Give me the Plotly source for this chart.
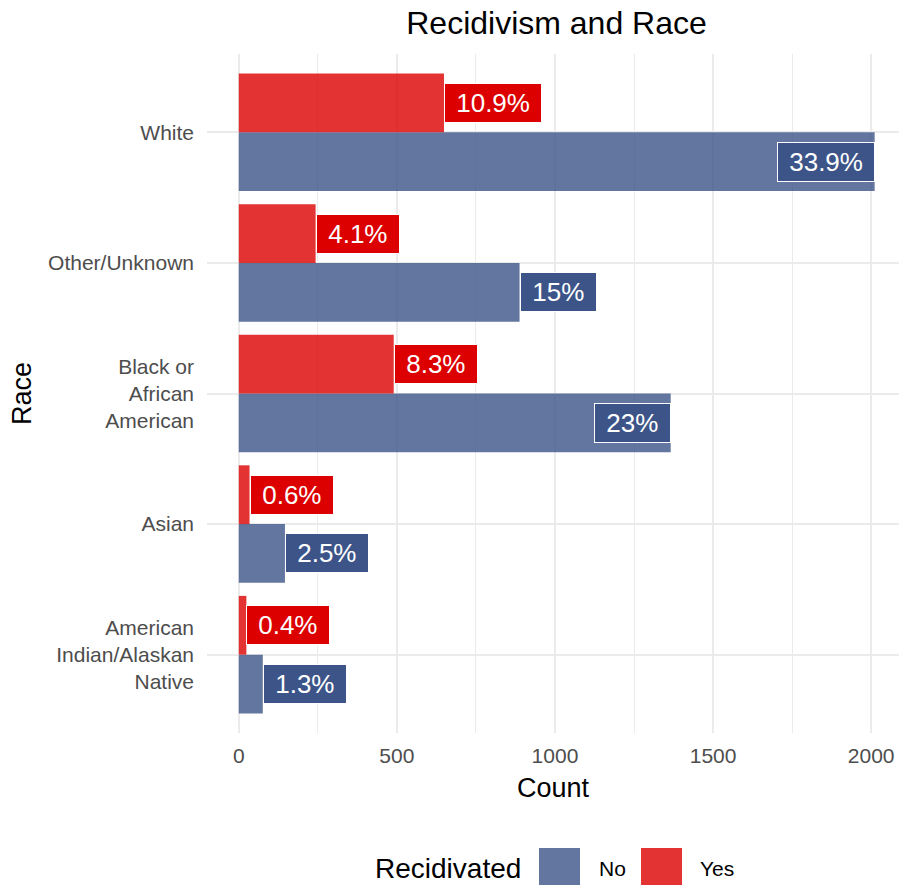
import plotly.graph_objects as go

# data
races = ["White", "Other/Unknown", "Black or<br>African<br>American", "Asian",
         "American<br>Indian/Alaskan<br>Native"]
count_no = [2011, 888, 1366, 146, 76]
count_yes = [649, 243, 490, 34, 24]
label_no = ["33.9%", "15%", "23%", "2.5%", "1.3%"]
label_yes = ["10.9%", "4.1%", "8.3%", "0.6%", "0.4%"]
x_ticks = [0, 500, 1000, 1500, 2000]

col_no = "#3C5488"
col_yes = "#DC0000"
font = "Liberation Sans, Arial, sans-serif"

W, H = 899, 885
L, R, T, B = 207, 0, 54, 152
pw, ph = W - L - R, H - T - B


def xp(px):
    return (px - L) / pw


def yp(py):
    return (H - B - py) / ph


pos = list(range(len(races), 0, -1))  # White on top

fig = go.Figure()
fig.add_trace(go.Bar(
    y=pos, x=count_no, orientation="h", width=0.45, offset=-0.45,
    marker=dict(color=col_no, opacity=0.8, line=dict(width=0)),
    name="No", showlegend=False
))
fig.add_trace(go.Bar(
    y=pos, x=count_yes, orientation="h", width=0.45, offset=0,
    marker=dict(color=col_yes, opacity=0.8, line=dict(width=0)),
    name="Yes", showlegend=False
))

# percentage labels
nb = "\u00a0"
for p, n, lab in zip(pos, count_no, label_no):
    fig.add_annotation(
        x=n, y=p - 0.225, text=nb + lab + nb, showarrow=False,
        xanchor="right" if n > 1000 else "left", yanchor="middle",
        font=dict(family=font, size=26, color="white"),
        bgcolor=col_no, bordercolor="white", borderwidth=1, borderpad=4
    )
for p, n, lab in zip(pos, count_yes, label_yes):
    fig.add_annotation(
        x=n, y=p + 0.225, text=nb + lab + nb, showarrow=False,
        xanchor="right" if n > 1000 else "left", yanchor="middle",
        font=dict(family=font, size=26, color="white"),
        bgcolor=col_yes, bordercolor="white", borderwidth=1, borderpad=4
    )

# legend drawn by hand so the keys are big squares like ggplot
fig.add_annotation(
    x=xp(523), y=yp(868), xref="paper", yref="paper", text="Recidivated",
    showarrow=False, xanchor="right", yanchor="middle",
    font=dict(family=font, size=28, color="black")
)
for key_x, txt_x, name, col in [(539, 597, "No", col_no), (641, 698, "Yes", col_yes)]:
    fig.add_shape(
        type="rect", xref="paper", yref="paper",
        x0=xp(key_x), x1=xp(key_x + 41), y0=yp(889), y1=yp(848),
        fillcolor=col, opacity=0.8, line=dict(width=0)
    )
    fig.add_annotation(
        x=xp(txt_x), y=yp(868), xref="paper", yref="paper", text=name,
        showarrow=False, xanchor="left", yanchor="middle",
        font=dict(family=font, size=21, color="black")
    )

fig.update_layout(
    width=W, height=H,
    margin=dict(l=L, r=R, t=T, b=B),
    barmode="overlay",
    plot_bgcolor="white", paper_bgcolor="white",
    font=dict(family=font),
    title=dict(
        text="Recidivism and Race", xref="container", yref="container",
        x=556.5 / W, y=1 - 23 / H, xanchor="center", yanchor="middle",
        font=dict(family=font, size=32, color="black")
    ),
    showlegend=False
)

fig.update_xaxes(
    range=[-100.5, 2088], tickvals=x_ticks, ticks="", zeroline=False,
    showline=False, showgrid=True, gridcolor="#EBEBEB", gridwidth=1.5,
    minor=dict(dtick=250, showgrid=True, gridcolor="#EBEBEB", gridwidth=1),
    tickfont=dict(family=font, size=21, color="#4D4D4D"),
    ticklabelstandoff=8, automargin=False, ticklabeloverflow="allow",
    title=dict(text="Count", standoff=12, font=dict(family=font, size=27, color="black"))
)
fig.update_yaxes(
    range=[0.4, 5.6], tickvals=pos, ticktext=races, ticks="", zeroline=False,
    showline=False, showgrid=True, gridcolor="#EBEBEB", gridwidth=1.5,
    tickfont=dict(family=font, size=21, color="#4D4D4D"),
    ticklabelstandoff=12, automargin=False,
    title=dict(text="Race", standoff=8, font=dict(family=font, size=27, color="black"))
)

# drop the default 8px page margin so the figure fills the window
fig.write_html("out.html", config={"displayModeBar": False},
               post_script="document.body.style.margin='0';document.body.style.overflow='hidden';")
